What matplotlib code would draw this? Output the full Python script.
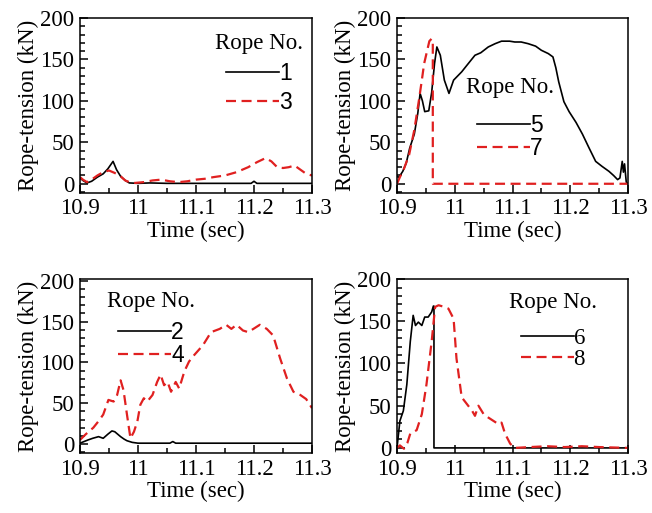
import matplotlib
matplotlib.use("Agg")
import matplotlib.pyplot as plt
from matplotlib.ticker import MultipleLocator, FuncFormatter

plt.rcParams['font.family'] = ['Liberation Serif', 'DejaVu Serif']

# Rope 1 / Rope 3
t_r1 = [10.9, 10.905, 10.912, 10.92, 10.93, 10.94, 10.948, 10.957, 10.963, 10.97, 10.978,
        10.985, 11.0, 11.02, 11.05, 11.1, 11.15, 11.195, 11.2, 11.205, 11.25, 11.3]
v_r1 = [7, 4, 1, 3, 8, 12, 18, 27, 17, 9, 4, 1, 0.5, 1, 0.5, 0.5, 0.5, 0.5, 3, 0.5, 0.5, 0.5]

t_r3 = [10.9, 10.905, 10.912, 10.92, 10.93, 10.94, 10.95, 10.96, 10.97, 10.978, 10.985,
        10.995, 11.01, 11.025, 11.04, 11.055, 11.07, 11.085, 11.1, 11.115, 11.13, 11.15,
        11.17, 11.19, 11.205, 11.22, 11.23, 11.24, 11.25, 11.26, 11.27, 11.28, 11.29, 11.3]
v_r3 = [8, 5, 2, 5, 10, 14, 16, 13, 9, 4, 2, 1, 2, 4, 5, 3, 2, 3, 5, 6, 8, 10,
        14, 20, 26, 31, 27, 20, 19, 20, 22, 17, 12, 10]

# Rope 5 / Rope 7
t_r5 = [10.9, 10.903, 10.91, 10.916, 10.922, 10.93, 10.936, 10.94, 10.944, 10.948, 10.955,
        10.96, 10.965, 10.969, 10.975, 10.982, 10.99, 10.998, 11.005, 11.012, 11.02, 11.035,
        11.045, 11.058, 11.07, 11.081, 11.095, 11.104, 11.115, 11.127, 11.14, 11.15, 11.162,
        11.17, 11.175, 11.18, 11.189, 11.198, 11.21, 11.221, 11.232, 11.244, 11.255, 11.267,
        11.275, 11.282, 11.286, 11.29, 11.292, 11.294, 11.297, 11.3]
v_r5 = [9, 7.6, 15, 25, 43, 60, 85, 109, 100, 87, 88, 110, 145, 165, 155, 125, 109, 125,
        130, 135, 142, 155, 158, 165, 169, 172, 172, 171, 171, 169, 166, 161, 157, 153,
        140, 123, 99, 87, 74, 60, 44, 27, 21, 15, 10, 5, 7, 27, 14, 24, 2, 0]

t_r7 = [10.9, 10.905, 10.912, 10.921, 10.93, 10.938, 10.943, 10.947, 10.952, 10.956, 10.96,
        10.962, 10.962, 11.0, 11.1, 11.2, 11.3]
v_r7 = [0, 8, 18, 35, 65, 101, 125, 145, 160, 172, 175, 170, 0, 0, 0, 0, 0]

# Rope 2 / Rope 4
t_r2 = [10.9, 10.907, 10.914, 10.922, 10.932, 10.94, 10.948, 10.955, 10.96, 10.965, 10.97,
        10.976, 10.981, 10.99, 11.0, 11.03, 11.055, 11.06, 11.065, 11.1, 11.15, 11.2, 11.25, 11.3]
v_r2 = [1, 3, 5, 7, 9, 7, 12, 16, 15, 12, 9, 6, 4, 2, 1, 1, 1, 3, 1, 1, 1, 1, 1, 1]

t_r4 = [10.9, 10.91, 10.923, 10.932, 10.94, 10.949, 10.958, 10.964, 10.97, 10.975, 10.981,
        10.987, 10.993, 10.999, 11.004, 11.01, 11.016, 11.025, 11.033, 11.039, 11.045,
        11.051, 11.057, 11.065, 11.071, 11.08, 11.088, 11.097, 11.112, 11.126, 11.141,
        11.152, 11.161, 11.17, 11.181, 11.19, 11.199, 11.21, 11.222, 11.233, 11.245,
        11.257, 11.268, 11.28, 11.29, 11.3]
v_r4 = [5, 12, 20, 28, 36, 54, 52, 60, 78, 66, 36, 7, 15, 28, 48, 56, 52, 60, 76, 85, 72,
        76, 64, 76, 68, 89, 101, 109, 121, 137, 141, 146, 141, 146, 139, 137, 141, 146,
        141, 133, 105, 80, 64, 60, 55, 44]

# Rope 6 / Rope 8
t_r6 = [10.9, 10.905, 10.911, 10.917, 10.923, 10.928, 10.932, 10.937, 10.943, 10.948,
        10.954, 10.96, 10.963, 10.964, 10.964, 11.0, 11.1, 11.2, 11.3]
v_r6 = [0, 32, 44, 75, 126, 157, 145, 149, 145, 155, 155, 161, 168, 168, 0, 0, 0, 0, 0]

t_r8 = [10.9, 10.905, 10.912, 10.918, 10.923, 10.934, 10.943, 10.951, 10.96, 10.966,
        10.972, 10.977, 10.983, 10.989, 10.998, 11.003, 11.012, 11.021, 11.03, 11.035,
        11.041, 11.05, 11.058, 11.067, 11.076, 11.081, 11.087, 11.096, 11.104, 11.13,
        11.16, 11.19, 11.22, 11.25, 11.3]
v_r8 = [0, 3, -1, 6, 17, 21, 40, 75, 126, 167, 169, 168, 167, 165, 153, 106, 60, 52, 44,
        38, 50, 40, 36, 32, 28, 30, 17, 5, 0, 1, 2, 1, 2, 1, 0]

# (black series, red series, y-limits, legend anchor, title gap, entry spacing)
panels = [
    (t_r1, v_r1, '1', t_r3, v_r3, '3', (-11, 200), (0.772, 0.915), 6, 0.25),
    (t_r5, v_r5, '5', t_r7, v_r7, '7', (-11, 200), (0.489, 0.665), 12, 0.0),
    (t_r2, v_r2, '2', t_r4, v_r4, '4', (-11, 202), (0.306, 0.93), 6.5, 0.0),
    (t_r6, v_r6, '6', t_r8, v_r8, '8', (-6, 200), (0.675, 0.925), 10.5, 0.0),
]
positions = [
    [0.1227, 0.624, 0.3558, 0.341],
    [0.6089, 0.624, 0.3543, 0.341],
    [0.1227, 0.117, 0.3558, 0.339],
    [0.6089, 0.117, 0.3543, 0.339],
]

fig = plt.figure(figsize=(6.52, 5.13), dpi=100)

for i, (ta, va, la, tb, vb, lb, ylim, anchor, gap, lsp) in enumerate(panels):
    ax = fig.add_axes(positions[i])
    ax.plot(ta, va, color='black', lw=1.2, label=la)
    ax.plot(tb, vb, color='#e02020', lw=1.6, ls=(0, (4.5, 2.5)), label=lb)
    ax.set_xlim(10.9, 11.3)
    ax.set_ylim(*ylim)
    ax.xaxis.set_major_locator(MultipleLocator(0.1))
    ax.xaxis.set_minor_locator(MultipleLocator(0.05))
    ax.yaxis.set_major_locator(MultipleLocator(50))
    ax.yaxis.set_minor_locator(MultipleLocator(10))
    ax.xaxis.set_major_formatter(FuncFormatter(lambda x, p: '%g' % round(x, 2)))
    ax.tick_params(which='both', direction='in', labelsize=16.5, width=1.1)
    ax.tick_params(which='major', length=6, pad=4)
    ax.tick_params(which='minor', length=3.5)
    for s in ax.spines.values():
        s.set_linewidth(1.1)
    ax.set_xlabel('Time (sec)', fontsize=16.5, labelpad=1)
    ax.set_ylabel('Rope-tension (kN)', fontsize=16.5, labelpad=1)
    num_font = 'Liberation Serif' if i == 3 else 'Liberation Sans'
    leg = ax.legend(frameon=False, title='Rope No.', handlelength=2.3, handletextpad=0.0,
                    labelspacing=lsp, borderpad=0.0, borderaxespad=0.0,
                    prop={'family': num_font, 'size': 16.5},
                    title_fontproperties={'family': 'Liberation Serif', 'size': 16.5},
                    loc='upper center', bbox_to_anchor=anchor)
    leg._legend_box.sep = gap

fig.savefig('out.png', dpi=100)
